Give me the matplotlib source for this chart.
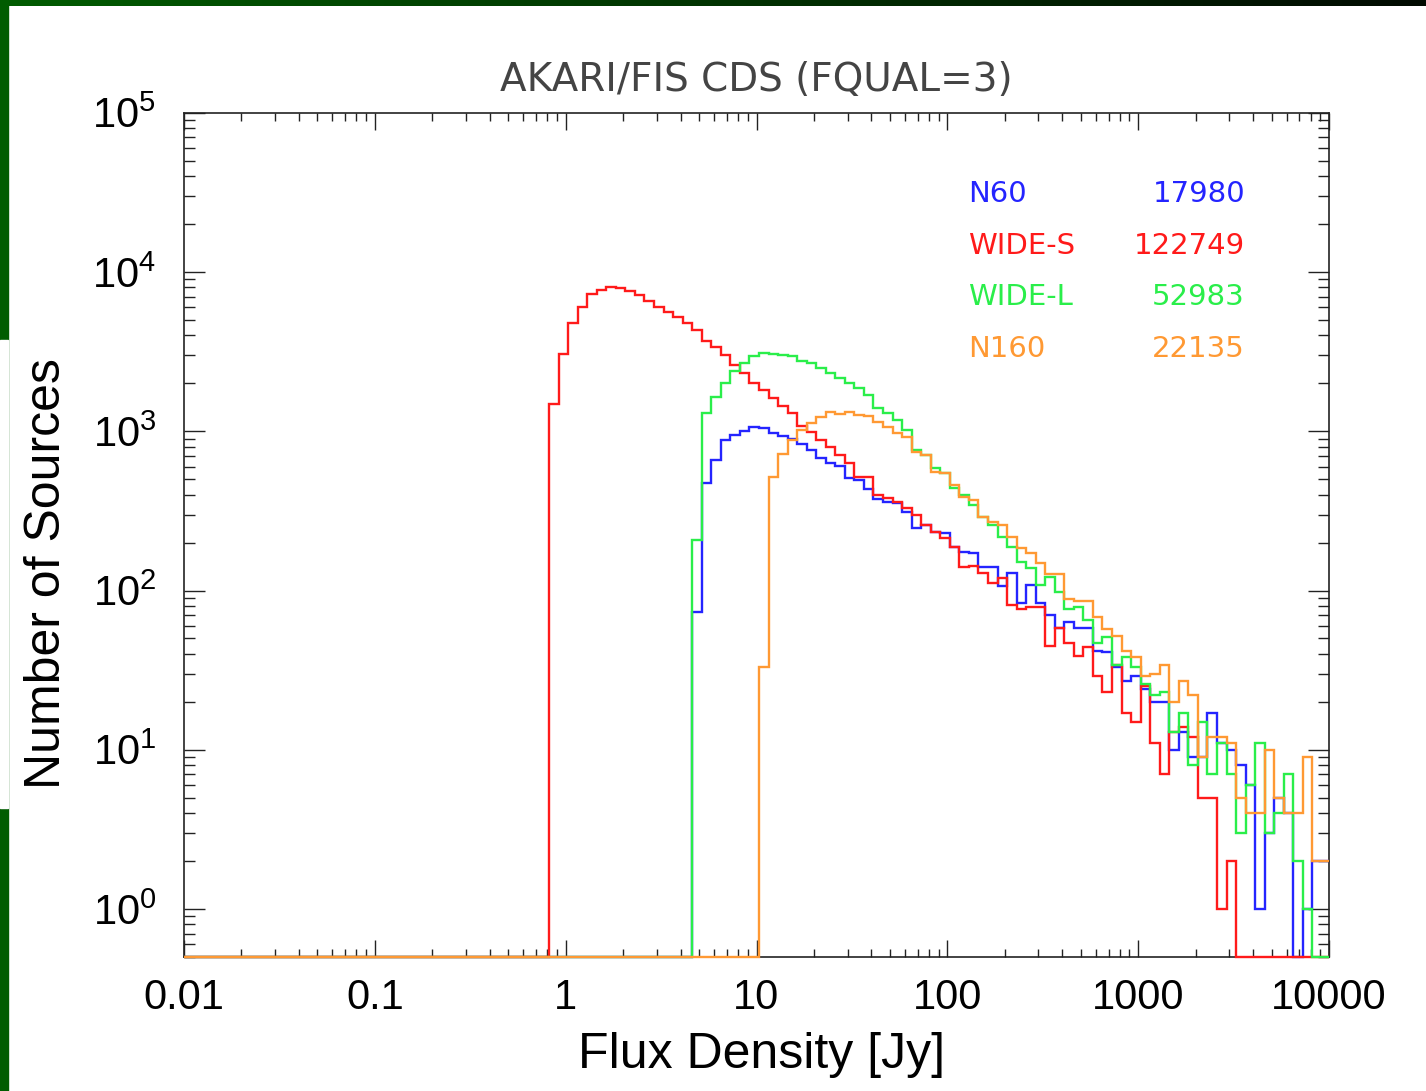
#!/usr/bin/env python3

import numpy as np
import matplotlib
matplotlib.use("Agg")
import matplotlib.pyplot as plt
from matplotlib.patches import Rectangle
from matplotlib.ticker import FixedLocator, FixedFormatter, LogLocator, NullFormatter

# histogram binning (log10 of flux density)
first_edge = -0.087
bin_width = 0.05
nbins = 81

# counts per bin; first value belongs to bin *_start
n60_start = 15
n60_counts = [73, 470, 658, 879, 945, 1006, 1066, 1042, 969, 931,
              889, 830, 761, 675, 628, 604, 505, 493, 437, 378,
              359, 353, 310, 246, 257, 232, 229, 187, 174, 172,
              140, 140, 107, 128, 84, 108, 84, 70, 58, 63,
              58, 58, 42, 41, 33, 27, 29, 24, 20, 20,
              10, 13, 9, 9, 17, 11, 10, 8, 6, 1,
              3, 5, 4, 0, 1, 2]

wides_start = 0
wides_counts = [1480, 3050, 4775, 6025, 7260, 7690, 8040, 7925, 7590, 7160,
                6565, 6025, 5600, 5210, 4775, 4315, 3680, 3375, 3005, 2600,
                2317, 2005, 1812, 1615, 1438, 1300, 1077, 987, 879, 795,
                708, 630, 515, 515, 397, 380, 359, 329, 297, 257,
                232, 213, 187, 140, 142, 128, 111, 119, 81, 77,
                79, 79, 45, 58, 47, 39, 44, 29, 23, 34,
                17, 15, 25, 11, 7, 13, 14, 12, 5, 5,
                1, 2]

widel_start = 15
widel_counts = [207, 1294, 1644, 1995, 2395, 2667, 2963, 3082, 3050, 3005,
                2963, 2768, 2667, 2480, 2307, 2146, 2014, 1857, 1686, 1397,
                1300, 1175, 1016, 761, 708, 587, 545, 439, 397, 343,
                289, 257, 216, 187, 151, 138, 108, 121, 98, 77,
                79, 65, 47, 51, 34, 38, 33, 26, 22, 23,
                13, 17, 8, 15, 7, 11, 7, 3, 6, 11,
                3, 4, 7, 2, 1, 0]

n160_start = 22
n160_counts = [33, 514, 715, 885, 1017, 1130, 1221, 1324, 1280, 1324,
               1262, 1250, 1145, 1060, 969, 922, 743, 708, 556, 545,
               459, 387, 369, 290, 270, 257, 217, 186, 171, 148,
               127, 127, 88, 86, 86, 68, 57, 52, 42, 38,
               29, 30, 34, 20, 27, 22, 9, 12, 12, 11,
               5, 4, 4, 10, 5, 4, 4, 9, 2]

labels = ["N60", "WIDE-S", "WIDE-L", "N160"]
totals = ["17980", "122749", "52983", "22135"]
colors = ["#2424ff", "#ff1a1a", "#2aee4a", "#ff9933"]

xticks = [0.01, 0.1, 1, 10, 100, 1000, 10000]
xticklabels = ["0.01", "0.1", "1", "10", "100", "1000", "10000"]

ymin = 0.5
ymax = 1e5

plt.rcParams['font.family'] = ['Liberation Sans', 'DejaVu Sans']
plt.rcParams['mathtext.default'] = 'regular'

W, H = 1426, 1091
fig = plt.figure(figsize=(W/100., H/100.), dpi=100)
fig.patch.set_facecolor("white")

# slide decoration: green strip at left, dark gradient at top
fig.patches.append(Rectangle((0, 0), 8./W, 1, transform=fig.transFigure,
                             color="#005c00", zorder=0))
fig.patches.append(Rectangle((0, 1-808./H), 8./W, (808.-340.)/H,
                             transform=fig.transFigure, color="white", zorder=1))
top = fig.add_axes([0, 1-6./H, 1, 6./H])
grad = np.linspace(0, 1, 256)
img = np.zeros((1, 256, 3))
img[0, :, 1] = 0.36*(1-grad) + 0.04*grad
top.imshow(img, aspect="auto", extent=(0, 1, 0, 1))
top.axis("off")

ax = fig.add_axes([184./W, 1-957./H, (1329.-184.)/W, (957.-112.7)/H])

log_edges = np.concatenate([[-2.0], first_edge + bin_width*np.arange(nbins), [4.0]])
edges = 10**log_edges

def fullhist(start, counts):
    arr = np.zeros(nbins)
    arr[start:start+len(counts)] = counts
    return np.concatenate([[0], arr])

series = [(n60_start, n60_counts), (wides_start, wides_counts),
          (widel_start, widel_counts), (n160_start, n160_counts)]

for (start, counts), c in zip(series, colors):
    vals = np.maximum(fullhist(start, counts), ymin)
    ax.stairs(vals, edges, baseline=None, color=c, linewidth=1.7,
              clip_on=False, zorder=3)

ax.set_xscale("log")
ax.set_yscale("log")
ax.set_xlim(0.01, 10000)
ax.set_ylim(ymin, ymax)

ax.xaxis.set_major_locator(FixedLocator(xticks))
ax.xaxis.set_major_formatter(FixedFormatter(xticklabels))
ax.xaxis.set_minor_locator(LogLocator(base=10, subs=np.arange(2, 10), numticks=20))
ax.xaxis.set_minor_formatter(NullFormatter())
ax.yaxis.set_major_locator(LogLocator(base=10, numticks=10))
ax.yaxis.set_minor_locator(LogLocator(base=10, subs=np.arange(2, 10), numticks=20))
ax.yaxis.set_minor_formatter(NullFormatter())

ax.tick_params(which="both", direction="in", top=True, right=True,
               width=1.0, color="#222222", labelsize=30)
ax.tick_params(axis="x", which="major", length=12, pad=15)
ax.tick_params(axis="x", which="minor", length=5.5)
ax.tick_params(axis="y", which="major", length=15, pad=20)
ax.tick_params(axis="y", which="minor", length=8)
for s in ax.spines.values():
    s.set_linewidth(1.2)
    s.set_color("#222222")

# legend-like text block
ylev = [0.9037, 0.8421, 0.7817, 0.7201]
for lab, tot, c, yy in zip(labels, totals, colors, ylev):
    ax.text(0.6847, yy, lab, transform=ax.transAxes, color=c, fontsize=21,
            family="DejaVu Sans", va="center", ha="left")
    ax.text(0.9266, yy, tot, transform=ax.transAxes, color=c, fontsize=21,
            family="DejaVu Sans", va="center", ha="right")

fig.text(756./W, 1-80./H, "AKARI/FIS CDS (FQUAL=3)", ha="center", va="center",
         fontsize=28, family="DejaVu Sans", color="#444444")
fig.text(761.5/W, 1-1055./H, "Flux Density [Jy]", ha="center", va="center",
         fontsize=36)
fig.text(47./W, 1-574./H, "Number of Sources", ha="center", va="center",
         fontsize=36, rotation=90)

fig.savefig("out.png", dpi=100)
